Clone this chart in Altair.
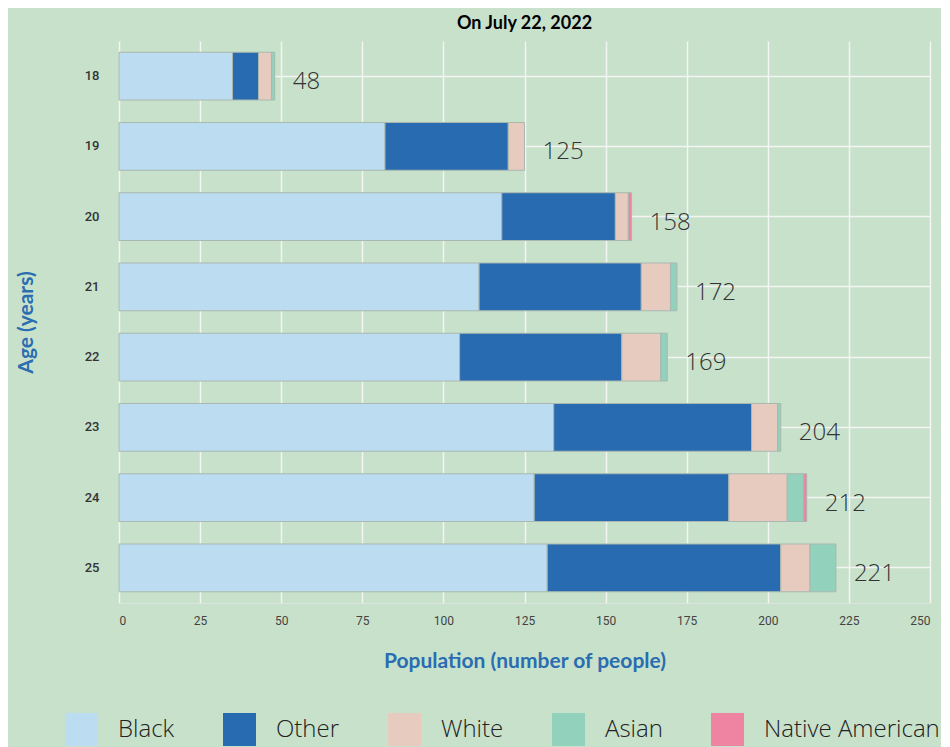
import altair as alt
import pandas as pd

ages = ["18", "19", "20", "21", "22", "23", "24", "25"]
groups = ["Black", "Other", "White", "Asian", "Native American"]
black = [35, 82, 118, 111, 105, 134, 128, 132]
other = [8, 38, 35, 50, 50, 61, 60, 72]
white = [4, 5, 4, 9, 12, 8, 18, 9]
asian = [1, 0, 0, 2, 2, 1, 5, 8]
native = [0, 0, 1, 0, 0, 0, 1, 0]
colors = ["#bcdcf2", "#286bb0", "#e8cbbf", "#92d1bb", "#ef84a2"]
x_ticks = [0, 25, 50, 75, 100, 125, 150, 175, 200, 225, 250]

series = [black, other, white, asian, native]
rows = []
for gi, (g, vals) in enumerate(zip(groups, series)):
    for a, v in zip(ages, vals):
        rows.append({"age": a, "group": g, "value": v, "ord": gi})
df = pd.DataFrame(rows)

base = alt.Chart(df)

bars = base.transform_filter("datum.value > 0").mark_bar(
    stroke="#a9b8b0", strokeWidth=1
).encode(
    y=alt.Y("age:N", sort=ages,
            scale=alt.Scale(paddingInner=0.32, paddingOuter=0.16),
            axis=alt.Axis(title="Age (years)", titleColor="#2a6db0", titleFont="Lato",
                          titleFontWeight="bold", titleFontSize=21, titlePadding=48,
                          labelFont="Roboto", labelFontSize=13, labelFontWeight=500,
                          labelColor="#333333",
                          labelPadding=20, ticks=False, domain=False,
                          grid=True, gridColor="#f2f5f2", gridWidth=1.5)),
    x=alt.X("value:Q", stack="zero",
            scale=alt.Scale(domain=[0, 250], nice=False),
            axis=alt.Axis(title="Population (number of people)", values=x_ticks,
                          titleColor="#2a6db0", titleFont="Lato", titleFontWeight="bold",
                          titleFontSize=21, titlePadding=24,
                          labelFont="Roboto", labelFontSize=12, labelColor="#444444",
                          labelPadding=12, ticks=False, domain=True, domainColor="#dde6de",
                          grid=True, gridColor="#f2f5f2", gridWidth=1.5)),
    color=alt.Color("group:N", sort=groups,
                    scale=alt.Scale(domain=groups, range=colors),
                    legend=alt.Legend(title=None, orient="none", direction="horizontal",
                                      legendX=-54, legendY=672, symbolType="square",
                                      symbolSize=1089, symbolStrokeWidth=0,
                                      labelFont="Open Sans", labelFontWeight=300,
                                      labelFontSize=24, labelColor="#222222",
                                      labelOffset=20, columnPadding=48, columns=5,
                                      labelLimit=0)),
    order=alt.Order("ord:Q"),
)

labels = base.transform_aggregate(
    total="sum(value)", groupby=["age"]
).mark_text(
    align="left", baseline="middle", dx=18, dy=6,
    font="Open Sans", fontWeight=300, fontSize=24, color="#333333"
).encode(
    y=alt.Y("age:N", sort=ages),
    x=alt.X("total:Q"),
    text=alt.Text("total:Q"),
)

chart = alt.layer(bars, labels).properties(
    width=811, height=562,
    title=alt.Title("On July 22, 2022", font="Lato", fontWeight="bold",
                    fontSize=18, color="#000000", anchor="middle", offset=8),
    autosize=alt.AutoSizeParams(type="none"),
    padding={"left": 111, "top": 33, "right": 11, "bottom": 150},
).configure(background="#c8e1cb").configure_view(stroke=None)

chart.save("out.html", embed_options={"renderer": "svg", "actions": False})
